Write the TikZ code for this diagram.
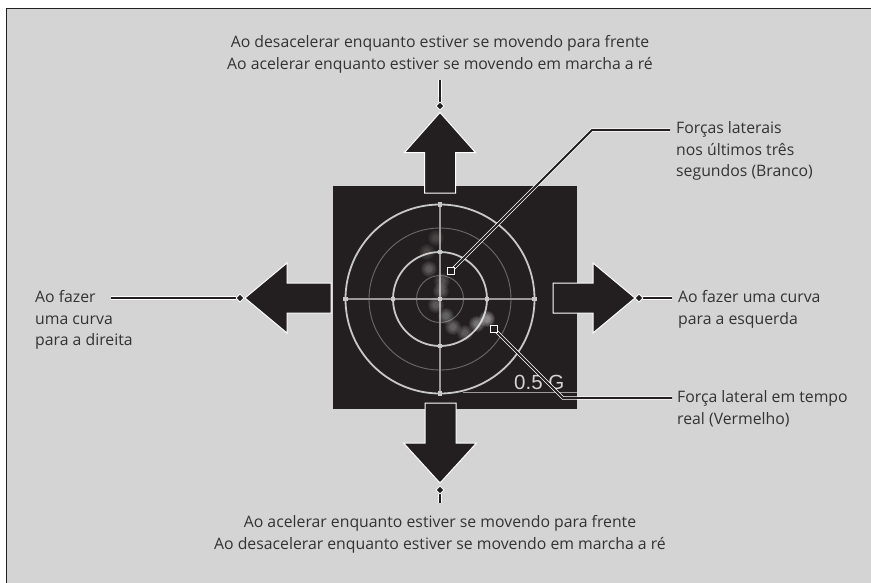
\documentclass[tikz,border=0pt]{standalone}
\usepackage{fontspec}
\setmainfont{Open Sans}
\newfontfamily\gfont{Liberation Sans}
\usetikzlibrary{shapes.geometric}
\definecolor{bg}{HTML}{D4D4D4}
\definecolor{ink}{HTML}{231F20}
\definecolor{txt}{HTML}{333333}
\definecolor{ringhi}{HTML}{C8C8C8}
\definecolor{ringlo}{HTML}{6A6A6A}
\definecolor{crossc}{HTML}{9A9A9A}
\begin{document}
\begin{tikzpicture}[x=1pt,y=-1pt,
  lbl/.style={inner sep=0pt, text=txt, font=\fontsize{15.8}{21.5}\selectfont},
  bigarrow/.style={fill=ink, draw=white, line width=1pt, line join=miter},
  lead/.style={draw=white, double=ink, double distance=1.8pt, line width=0.8pt},
  dia/.style={diamond, fill=ink, draw=white, line width=0.8pt, inner sep=0pt, minimum size=8pt},
  sq/.style={rectangle, fill=ink, draw=white, line width=1pt, inner sep=0pt, minimum size=7pt},
  thickring/.style={draw=ringhi, line width=1.8pt},
  thinring/.style={draw=ringlo, line width=0.9pt},
  crossline/.style={draw=crossc, line width=1.2pt},
  tick/.style={fill=ringhi}
]
\useasboundingbox (0,0) rectangle (871,582);
\fill[white] (0,0) rectangle (871,582);
\begin{scope}
\clip (0,0) rectangle (871,582);
\draw[fill=bg, draw=ink, line width=1.2pt] (6.5,8.5) rectangle (890,600);
\end{scope}
% panel
\fill[ink] (333,186) rectangle (577,409);
% rings
\draw[thinring] (440,299) circle (23.5pt);
\draw[thinring] (440,299) circle (71pt);
\draw[thickring] (440,299) circle (47pt);
\draw[thickring] (440,299) circle (94.5pt);
\draw[crossline] (440,204.5) -- (440,393.5);
\draw[crossline] (345.5,299) -- (534.5,299);
\foreach \dx/\dy in {0/0, 47/0, -47/0, 94.5/0, -94.5/0, 0/47, 0/-47, 0/94.5, 0/-94.5}
  {\fill[tick] (440+\dx-2.2,299+\dy-2.2) rectangle (440+\dx+2.2,299+\dy+2.2);}
% blurred dots
\foreach \x/\y/\o in {436/238/0.03, 427/252/0.03, 429/269/0.05, 442/281/0.045, 441/291/0.05, 436/305/0.05, 446/316/0.06, 453/327/0.06, 465/333/0.05, 477/324/0.08, 487/319/0.10}
  {\foreach \r in {8,7,6,5,4,3}
    {\fill[white, fill opacity=\o] (\x,\y) circle (\r pt);}}
% scale text
\node[inner sep=0pt, anchor=base west, text=ringhi!80!white, font=\gfont\fontsize{20.5}{20.5}\selectfont] (scl) at (514,389.5) {0.5 G};
\draw[draw=crossc, line width=0.8pt] (463,392.5) -- (577,392.5);
% arrows
\draw[bigarrow] (440,112.5) -- (475.5,152.5) -- (455.5,152.5) -- (455.5,193) -- (424.5,193) -- (424.5,152.5) -- (404.5,152.5) -- cycle;
\draw[bigarrow] (440,483) -- (476.5,443) -- (456,443) -- (456,403) -- (425,403) -- (425,443) -- (403.5,443) -- cycle;
\draw[bigarrow] (245,298) -- (287,263) -- (287,283) -- (331,283) -- (331,313) -- (287,313) -- (287,333) -- cycle;
\draw[bigarrow] (635,298) -- (593,263) -- (593,283) -- (553,283) -- (553,313) -- (593,313) -- (593,333) -- cycle;
% texts
\node[lbl, align=center, anchor=north] (tTop) at (440,35.5) {Ao desacelerar enquanto estiver se movendo para frente\\Ao acelerar enquanto estiver se movendo em marcha a ré};
\node[lbl, align=center, anchor=north] (tBot) at (440,515.5) {Ao acelerar enquanto estiver se movendo para frente\\Ao desacelerar enquanto estiver se movendo em marcha a ré};
\node[lbl, align=left, anchor=north west] (tL) at (35,290.5) {Ao fazer\\uma curva\\para a direita};
\node[lbl, align=left, anchor=north west] (tR) at (678,290.5) {Ao fazer uma curva\\para a esquerda};
\node[lbl, align=left, anchor=north west] (tA) at (676,121.5) {Forças laterais\\nos últimos três\\segundos (Branco)};
\node[lbl, align=left, anchor=north west] (tB) at (677,390.5) {Força lateral em tempo\\real (Vermelho)};
% leaders with diamonds
\coordinate (cT) at (440,80);
\node[dia] (dT) at (440,106) {};
\coordinate (cB) at (440,503);
\node[dia] (dB) at (440,490) {};
\coordinate (cL) at (111,298);
\node[dia] (dL) at (240,298) {};
\coordinate (cR) at (672,298);
\node[dia] (dR) at (639,298) {};
\draw[lead] (cT) -- (dT.north);
\draw[lead] (cB) -- (dB.south);
\draw[lead] (cL) -- (dL.west);
\draw[lead] (cR) -- (dR.east);
\node[dia] at (dT) {};
\node[dia] at (dB) {};
\node[dia] at (dL) {};
\node[dia] at (dR) {};
% callouts
\node[sq] (sqA) at (451,271) {};
\coordinate (kA) at (592,130);
\coordinate (eA) at (670,130);
\node[sq] (sqB) at (494,329) {};
\coordinate (kB) at (563,398);
\coordinate (eB) at (672,398);
\draw[lead] (sqA.center) -- (kA) -- (eA);
\draw[lead] (sqB.center) -- (kB) -- (eB);
\node[sq] at (sqA) {};
\node[sq] at (sqB) {};
\end{tikzpicture}
\end{document}
